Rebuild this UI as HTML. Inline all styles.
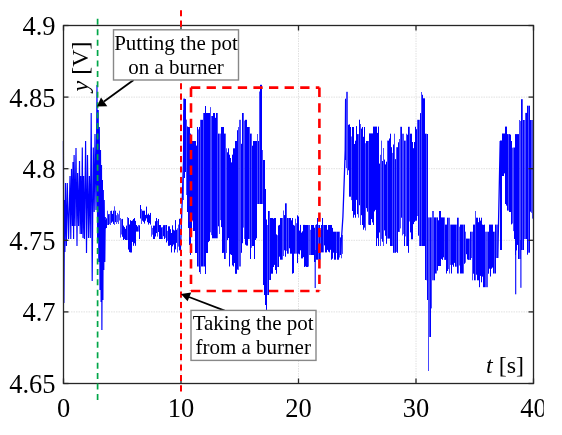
<!DOCTYPE html>
<html><head><meta charset="utf-8"><style>
html,body{margin:0;padding:0;background:#fff;}
body{width:562px;height:435px;overflow:hidden;position:relative;}
svg{position:absolute;left:0;top:0;will-change:transform;}
text{font-family:"Liberation Serif",serif;fill:#000;}
</style></head><body>
<svg width="562" height="435" viewBox="0 0 562 435">
<rect x="0" y="0" width="562" height="435" fill="#fff"/>
<g stroke="#e0e0e0" stroke-width="1" stroke-dasharray="1.5 1" fill="none">
<line x1="181.00" y1="25.5" x2="181.00" y2="383.5"/>
<line x1="298.50" y1="25.5" x2="298.50" y2="383.5"/>
<line x1="416.00" y1="25.5" x2="416.00" y2="383.5"/>
<line x1="63.5" y1="311.90" x2="533.5" y2="311.90"/>
<line x1="63.5" y1="240.30" x2="533.5" y2="240.30"/>
<line x1="63.5" y1="168.70" x2="533.5" y2="168.70"/>
<line x1="63.5" y1="97.10" x2="533.5" y2="97.10"/>
</g>
<g fill="#0000ff" stroke="none">
<rect x="105" y="220.0" width="1" height="8.7"/>
<rect x="106" y="218.3" width="1" height="9.7"/>
<rect x="107" y="210.7" width="0.72" height="14.3"/>
<rect x="108" y="214.2" width="1" height="10.8"/>
<rect x="109" y="214.0" width="0.72" height="10.2"/>
<rect x="110" y="211.0" width="0.72" height="14.0"/>
<rect x="111" y="210.7" width="1" height="12.1"/>
<rect x="112" y="213.9" width="1" height="7.8"/>
<rect x="113" y="210.7" width="1" height="13.2"/>
<rect x="114" y="206.3" width="0.72" height="18.7"/>
<rect x="115" y="210.7" width="1" height="11.4"/>
<rect x="116" y="215.2" width="0.72" height="8.8"/>
<rect x="117" y="212.9" width="0.72" height="9.3"/>
<rect x="118" y="214.3" width="0.72" height="9.7"/>
<rect x="119" y="210.7" width="0.72" height="9.8"/>
<rect x="120" y="218.0" width="0.72" height="19.6"/>
<rect x="121" y="219.2" width="0.72" height="15.3"/>
<rect x="122" y="218.9" width="1" height="17.9"/>
<rect x="123" y="225.6" width="1" height="14.4"/>
<rect x="124" y="227.1" width="1" height="11.8"/>
<rect x="125" y="228.8" width="1" height="11.2"/>
<rect x="126" y="225.6" width="1" height="14.4"/>
<rect x="127" y="217.0" width="0.72" height="23.0"/>
<rect x="128" y="218.0" width="1" height="31.6"/>
<rect x="129" y="224.5" width="1" height="27.6"/>
<rect x="130" y="220.2" width="1" height="32.3"/>
<rect x="131" y="221.0" width="1" height="31.5"/>
<rect x="132" y="220.4" width="1" height="21.5"/>
<rect x="133" y="219.0" width="1" height="26.8"/>
<rect x="134" y="218.0" width="1" height="25.3"/>
<rect x="135" y="220.9" width="1" height="24.9"/>
<rect x="136" y="225.0" width="1" height="6.6"/>
<rect x="137" y="226.4" width="1" height="5.2"/>
<rect x="138" y="225.0" width="0.72" height="6.6"/>
<rect x="139" y="225.3" width="1" height="13.7"/>
<rect x="140" y="205.0" width="1" height="13.5"/>
<rect x="141" y="209.1" width="0.72" height="14.9"/>
<rect x="142" y="210.7" width="1" height="10.0"/>
<rect x="143" y="210.7" width="1" height="11.1"/>
<rect x="144" y="210.7" width="1" height="12.9"/>
<rect x="145" y="214.9" width="1" height="5.8"/>
<rect x="146" y="206.6" width="1" height="11.8"/>
<rect x="147" y="214.7" width="1" height="7.5"/>
<rect x="148" y="213.6" width="1" height="11.0"/>
<rect x="149" y="215.1" width="1" height="8.0"/>
<rect x="150" y="212.9" width="1" height="11.7"/>
<rect x="151" y="225.6" width="0.72" height="11.1"/>
<rect x="152" y="227.9" width="0.72" height="6.8"/>
<rect x="153" y="225.6" width="1" height="13.4"/>
<rect x="154" y="225.6" width="1" height="13.4"/>
<rect x="155" y="221.2" width="1" height="15.3"/>
<rect x="156" y="218.0" width="1" height="15.1"/>
<rect x="157" y="220.8" width="0.72" height="15.8"/>
<rect x="158" y="219.0" width="1" height="13.0"/>
<rect x="159" y="225.0" width="1" height="14.0"/>
<rect x="160" y="225.0" width="1" height="14.0"/>
<rect x="161" y="227.4" width="1" height="11.6"/>
<rect x="162" y="227.2" width="0.72" height="11.8"/>
<rect x="163" y="225.2" width="1" height="11.0"/>
<rect x="164" y="225.1" width="1" height="13.9"/>
<rect x="165" y="225.0" width="0.72" height="12.8"/>
<rect x="166" y="225.0" width="1" height="17.5"/>
<rect x="167" y="230.9" width="0.72" height="9.9"/>
<rect x="168" y="226.3" width="1" height="19.5"/>
<rect x="169" y="226.3" width="1" height="19.5"/>
<rect x="170" y="229.2" width="1" height="15.8"/>
<rect x="171" y="233.0" width="1" height="19.5"/>
<rect x="172" y="225.3" width="1" height="21.0"/>
<rect x="173" y="229.7" width="1" height="14.9"/>
<rect x="174" y="230.5" width="1" height="22.0"/>
<rect x="175" y="220.1" width="1" height="29.3"/>
<rect x="176" y="229.8" width="1" height="13.1"/>
<rect x="177" y="228.3" width="0.72" height="24.2"/>
<rect x="178" y="224.6" width="0.72" height="22.0"/>
<rect x="179" y="218.8" width="1" height="31.6"/>
<rect x="183" y="98.6" width="0.72" height="101.4"/>
<rect x="184" y="98.6" width="1" height="79.4"/>
<rect x="185" y="99.0" width="1" height="73.0"/>
<rect x="186" y="119.6" width="0.72" height="75.4"/>
<rect x="187" y="126.5" width="1" height="85.5"/>
<rect x="188" y="127.0" width="1" height="101.0"/>
<rect x="189" y="127.0" width="1" height="118.0"/>
<rect x="190" y="133.6" width="1" height="121.3"/>
<rect x="191" y="136.2" width="1" height="95.8"/>
<rect x="192" y="141.0" width="1" height="79.6"/>
<rect x="193" y="141.0" width="1" height="90.0"/>
<rect x="194" y="141.0" width="1" height="90.0"/>
<rect x="195" y="141.0" width="1" height="112.0"/>
<rect x="196" y="145.6" width="1" height="107.4"/>
<rect x="197" y="127.0" width="1" height="139.5"/>
<rect x="198" y="129.4" width="0.72" height="137.1"/>
<rect x="199" y="127.0" width="1" height="145.1"/>
<rect x="200" y="119.8" width="0.72" height="154.2"/>
<rect x="201" y="119.8" width="1" height="146.7"/>
<rect x="202" y="119.8" width="1" height="146.7"/>
<rect x="203" y="113.0" width="0.72" height="153.5"/>
<rect x="204" y="113.0" width="1" height="153.5"/>
<rect x="205" y="106.0" width="1" height="168.0"/>
<rect x="206" y="113.0" width="1" height="140.0"/>
<rect x="207" y="113.0" width="1" height="140.0"/>
<rect x="208" y="113.0" width="1" height="129.1"/>
<rect x="209" y="113.0" width="1" height="127.9"/>
<rect x="210" y="107.1" width="0.72" height="125.2"/>
<rect x="211" y="116.0" width="0.72" height="119.1"/>
<rect x="212" y="116.0" width="1" height="122.3"/>
<rect x="213" y="113.0" width="1" height="125.3"/>
<rect x="214" y="113.0" width="1" height="125.3"/>
<rect x="215" y="117.8" width="1" height="120.5"/>
<rect x="216" y="113.0" width="1" height="125.3"/>
<rect x="217" y="113.0" width="0.72" height="125.3"/>
<rect x="218" y="133.6" width="1" height="92.7"/>
<rect x="219" y="133.6" width="0.72" height="100.4"/>
<rect x="220" y="133.6" width="0.72" height="86.5"/>
<rect x="221" y="127.0" width="1" height="100.1"/>
<rect x="222" y="127.0" width="1" height="126.0"/>
<rect x="223" y="127.0" width="1" height="125.8"/>
<rect x="224" y="133.6" width="1" height="125.4"/>
<rect x="225" y="133.6" width="0.72" height="125.4"/>
<rect x="226" y="148.3" width="0.72" height="104.7"/>
<rect x="227" y="152.3" width="1" height="87.8"/>
<rect x="228" y="148.3" width="1" height="89.7"/>
<rect x="229" y="154.7" width="1" height="111.8"/>
<rect x="230" y="158.0" width="1" height="96.3"/>
<rect x="231" y="162.4" width="1" height="92.6"/>
<rect x="232" y="154.7" width="1" height="110.7"/>
<rect x="233" y="148.3" width="1" height="118.2"/>
<rect x="234" y="148.3" width="1" height="114.7"/>
<rect x="235" y="141.0" width="1" height="132.8"/>
<rect x="236" y="141.0" width="1" height="132.8"/>
<rect x="237" y="130.2" width="1" height="139.4"/>
<rect x="238" y="127.0" width="0.72" height="142.9"/>
<rect x="239" y="119.8" width="0.72" height="146.7"/>
<rect x="240" y="119.8" width="0.72" height="146.7"/>
<rect x="241" y="143.8" width="1" height="109.0"/>
<rect x="242" y="113.0" width="1" height="130.2"/>
<rect x="243" y="113.0" width="0.72" height="114.6"/>
<rect x="244" y="120.6" width="0.72" height="118.4"/>
<rect x="245" y="119.8" width="1" height="124.9"/>
<rect x="246" y="119.8" width="1" height="125.8"/>
<rect x="247" y="127.0" width="1" height="118.6"/>
<rect x="248" y="127.0" width="1" height="112.0"/>
<rect x="249" y="127.0" width="0.72" height="112.0"/>
<rect x="250" y="133.6" width="1" height="125.4"/>
<rect x="251" y="133.6" width="0.72" height="114.2"/>
<rect x="252" y="145.7" width="1" height="100.3"/>
<rect x="253" y="141.0" width="1" height="105.0"/>
<rect x="254" y="141.0" width="1" height="118.0"/>
<rect x="255" y="141.0" width="1" height="99.0"/>
<rect x="256" y="141.0" width="1" height="97.3"/>
<rect x="257" y="134.0" width="0.72" height="70.0"/>
<rect x="258" y="141.0" width="1" height="63.0"/>
<rect x="259" y="91.5" width="0.72" height="112.5"/>
<rect x="260" y="84.8" width="1" height="119.2"/>
<rect x="261" y="84.8" width="1" height="119.2"/>
<rect x="262" y="150.0" width="0.72" height="54.0"/>
<rect x="263" y="160.0" width="1" height="125.0"/>
<rect x="264" y="160.0" width="1" height="135.0"/>
<rect x="265" y="189.0" width="1" height="116.0"/>
<rect x="266" y="219.5" width="1" height="90.5"/>
<rect x="267" y="225.0" width="0.72" height="70.0"/>
<rect x="268" y="211.0" width="1" height="84.0"/>
<rect x="269" y="211.0" width="0.72" height="69.0"/>
<rect x="270" y="218.0" width="1" height="62.0"/>
<rect x="271" y="218.0" width="1" height="55.7"/>
<rect x="272" y="218.0" width="1" height="55.7"/>
<rect x="273" y="218.6" width="1" height="48.4"/>
<rect x="274" y="218.0" width="1" height="46.9"/>
<rect x="275" y="218.0" width="1" height="52.0"/>
<rect x="276" y="234.4" width="1" height="39.3"/>
<rect x="277" y="235.2" width="0.72" height="31.8"/>
<rect x="278" y="225.5" width="1" height="41.5"/>
<rect x="279" y="224.9" width="1" height="31.8"/>
<rect x="280" y="218.0" width="1" height="41.7"/>
<rect x="281" y="218.0" width="1" height="41.7"/>
<rect x="282" y="218.0" width="0.72" height="41.7"/>
<rect x="283" y="210.5" width="0.72" height="45.5"/>
<rect x="284" y="215.1" width="1" height="35.2"/>
<rect x="285" y="203.3" width="1" height="53.4"/>
<rect x="286" y="203.3" width="0.72" height="47.5"/>
<rect x="287" y="218.0" width="1" height="35.7"/>
<rect x="288" y="218.0" width="0.72" height="35.7"/>
<rect x="289" y="218.0" width="1" height="30.3"/>
<rect x="290" y="218.0" width="1" height="35.7"/>
<rect x="291" y="220.3" width="1" height="33.4"/>
<rect x="292" y="218.0" width="1" height="55.7"/>
<rect x="293" y="224.9" width="1" height="48.2"/>
<rect x="294" y="225.6" width="1" height="28.1"/>
<rect x="295" y="218.7" width="0.72" height="35.0"/>
<rect x="296" y="223.2" width="0.72" height="30.5"/>
<rect x="297" y="215.3" width="1" height="47.8"/>
<rect x="298" y="216.5" width="1" height="37.2"/>
<rect x="299" y="230.6" width="1" height="23.7"/>
<rect x="300" y="224.9" width="1" height="25.4"/>
<rect x="301" y="232.6" width="1" height="25.8"/>
<rect x="302" y="231.3" width="1" height="27.1"/>
<rect x="303" y="224.9" width="1" height="32.2"/>
<rect x="304" y="224.9" width="1" height="42.1"/>
<rect x="305" y="225.0" width="1" height="41.4"/>
<rect x="306" y="225.0" width="1" height="42.0"/>
<rect x="307" y="225.0" width="1" height="42.0"/>
<rect x="308" y="225.0" width="0.72" height="41.6"/>
<rect x="309" y="225.0" width="0.72" height="30.0"/>
<rect x="310" y="229.8" width="0.72" height="25.2"/>
<rect x="311" y="225.0" width="1" height="30.0"/>
<rect x="312" y="225.0" width="1" height="30.0"/>
<rect x="313" y="225.0" width="1" height="30.0"/>
<rect x="314" y="227.7" width="1" height="34.3"/>
<rect x="315" y="225.0" width="0.72" height="37.0"/>
<rect x="316" y="224.4" width="1" height="35.3"/>
<rect x="317" y="218.0" width="1" height="41.7"/>
<rect x="318" y="225.0" width="0.72" height="34.7"/>
<rect x="319" y="225.0" width="1" height="34.7"/>
<rect x="320" y="229.8" width="0.72" height="29.9"/>
<rect x="321" y="225.0" width="1" height="27.4"/>
<rect x="322" y="218.0" width="1" height="34.4"/>
<rect x="323" y="225.0" width="0.72" height="27.4"/>
<rect x="324" y="225.0" width="1" height="20.4"/>
<rect x="325" y="225.0" width="1" height="27.4"/>
<rect x="326" y="225.0" width="1" height="27.4"/>
<rect x="327" y="229.7" width="1" height="20.2"/>
<rect x="328" y="225.0" width="1" height="26.7"/>
<rect x="329" y="225.0" width="1" height="27.4"/>
<rect x="330" y="225.0" width="1" height="24.8"/>
<rect x="331" y="225.0" width="1" height="34.7"/>
<rect x="332" y="227.9" width="1" height="30.8"/>
<rect x="333" y="231.7" width="1" height="21.0"/>
<rect x="334" y="231.7" width="1" height="28.0"/>
<rect x="335" y="231.7" width="1" height="28.0"/>
<rect x="336" y="231.7" width="0.72" height="21.3"/>
<rect x="337" y="231.7" width="1" height="28.0"/>
<rect x="338" y="231.7" width="1" height="28.0"/>
<rect x="339" y="231.7" width="0.72" height="25.8"/>
<rect x="340" y="237.4" width="1" height="17.6"/>
<rect x="341" y="235.0" width="0.72" height="23.3"/>
<rect x="342" y="235.0" width="0.72" height="18.9"/>
<rect x="345" y="98.7" width="1" height="61.3"/>
<rect x="346" y="91.8" width="0.72" height="76.2"/>
<rect x="347" y="91.8" width="0.72" height="83.2"/>
<rect x="348" y="124.8" width="1" height="45.5"/>
<rect x="349" y="124.3" width="1" height="72.4"/>
<rect x="350" y="127.0" width="1" height="69.7"/>
<rect x="351" y="136.5" width="0.72" height="63.6"/>
<rect x="352" y="127.0" width="1" height="84.0"/>
<rect x="353" y="127.0" width="1" height="90.7"/>
<rect x="354" y="144.0" width="1" height="70.8"/>
<rect x="355" y="140.7" width="1" height="77.0"/>
<rect x="356" y="126.1" width="1" height="73.8"/>
<rect x="357" y="134.1" width="1" height="80.1"/>
<rect x="358" y="134.1" width="0.72" height="83.6"/>
<rect x="359" y="119.7" width="1" height="85.5"/>
<rect x="360" y="124.0" width="0.72" height="101.0"/>
<rect x="361" y="128.6" width="1" height="86.6"/>
<rect x="362" y="127.0" width="1" height="98.0"/>
<rect x="363" y="136.8" width="1" height="92.9"/>
<rect x="364" y="127.0" width="1" height="100.6"/>
<rect x="365" y="143.2" width="0.72" height="87.3"/>
<rect x="366" y="141.0" width="1" height="67.1"/>
<rect x="367" y="141.0" width="1" height="70.7"/>
<rect x="368" y="141.0" width="0.72" height="83.7"/>
<rect x="369" y="133.4" width="1" height="91.6"/>
<rect x="370" y="133.4" width="1" height="91.6"/>
<rect x="371" y="133.4" width="1" height="85.6"/>
<rect x="372" y="133.4" width="1" height="89.0"/>
<rect x="373" y="126.6" width="1" height="98.4"/>
<rect x="374" y="126.6" width="1" height="84.8"/>
<rect x="375" y="126.6" width="1" height="83.3"/>
<rect x="376" y="126.6" width="1" height="119.4"/>
<rect x="377" y="132.9" width="1" height="105.3"/>
<rect x="378" y="126.6" width="1" height="119.4"/>
<rect x="379" y="163.6" width="1" height="68.9"/>
<rect x="380" y="154.8" width="0.72" height="91.2"/>
<rect x="381" y="140.6" width="0.72" height="98.3"/>
<rect x="382" y="161.0" width="1" height="80.7"/>
<rect x="383" y="148.0" width="0.72" height="98.0"/>
<rect x="384" y="159.6" width="1" height="70.8"/>
<rect x="385" y="164.4" width="1" height="71.4"/>
<rect x="386" y="161.7" width="1" height="82.1"/>
<rect x="387" y="140.6" width="0.72" height="98.0"/>
<rect x="388" y="140.6" width="1" height="98.0"/>
<rect x="389" y="138.5" width="1" height="100.1"/>
<rect x="390" y="133.7" width="1" height="112.3"/>
<rect x="391" y="147.2" width="1" height="98.8"/>
<rect x="392" y="152.9" width="0.72" height="93.1"/>
<rect x="393" y="144.5" width="1" height="108.3"/>
<rect x="394" y="133.7" width="0.72" height="119.1"/>
<rect x="395" y="159.1" width="1" height="93.7"/>
<rect x="396" y="147.2" width="0.72" height="104.7"/>
<rect x="397" y="147.2" width="1" height="105.6"/>
<rect x="398" y="142.3" width="1" height="89.6"/>
<rect x="399" y="139.0" width="0.72" height="92.9"/>
<rect x="400" y="126.8" width="0.72" height="101.6"/>
<rect x="401" y="126.8" width="1" height="90.9"/>
<rect x="402" y="133.7" width="0.72" height="101.7"/>
<rect x="403" y="133.7" width="0.72" height="100.3"/>
<rect x="404" y="140.6" width="1" height="105.4"/>
<rect x="405" y="140.6" width="0.72" height="95.8"/>
<rect x="406" y="133.7" width="0.72" height="112.3"/>
<rect x="407" y="134.7" width="1" height="111.3"/>
<rect x="408" y="126.8" width="1" height="126.0"/>
<rect x="409" y="126.8" width="0.72" height="94.7"/>
<rect x="410" y="133.7" width="1" height="98.7"/>
<rect x="411" y="133.7" width="1" height="105.6"/>
<rect x="412" y="142.0" width="1" height="97.3"/>
<rect x="413" y="148.2" width="1" height="75.9"/>
<rect x="414" y="142.0" width="1" height="79.9"/>
<rect x="415" y="126.8" width="1" height="94.0"/>
<rect x="416" y="129.2" width="1" height="91.5"/>
<rect x="417" y="119.8" width="0.72" height="96.2"/>
<rect x="418" y="119.8" width="1" height="115.9"/>
<rect x="419" y="119.8" width="0.72" height="126.2"/>
<rect x="420" y="113.1" width="1" height="132.9"/>
<rect x="421" y="92.0" width="0.72" height="154.0"/>
<rect x="422" y="94.8" width="1" height="151.2"/>
<rect x="423" y="98.3" width="1" height="147.7"/>
<rect x="424" y="98.3" width="1" height="147.7"/>
<rect x="425" y="133.7" width="1" height="146.3"/>
<rect x="426" y="133.7" width="0.72" height="146.6"/>
<rect x="427" y="134.0" width="1" height="166.0"/>
<rect x="428" y="217.4" width="0.72" height="153.6"/>
<rect x="429" y="217.4" width="0.72" height="119.6"/>
<rect x="430" y="217.4" width="1" height="119.6"/>
<rect x="431" y="217.4" width="0.72" height="91.0"/>
<rect x="432" y="211.0" width="0.72" height="69.3"/>
<rect x="433" y="211.0" width="0.72" height="69.3"/>
<rect x="434" y="217.4" width="1" height="62.9"/>
<rect x="435" y="217.4" width="1" height="56.1"/>
<rect x="436" y="217.4" width="0.72" height="56.1"/>
<rect x="437" y="217.4" width="1" height="53.2"/>
<rect x="438" y="220.3" width="1" height="45.7"/>
<rect x="439" y="211.0" width="1" height="55.0"/>
<rect x="440" y="211.0" width="1" height="55.0"/>
<rect x="441" y="217.4" width="1" height="41.5"/>
<rect x="442" y="217.4" width="1" height="42.5"/>
<rect x="443" y="217.4" width="1" height="39.9"/>
<rect x="444" y="217.4" width="0.72" height="42.5"/>
<rect x="445" y="224.6" width="1" height="35.3"/>
<rect x="446" y="224.6" width="1" height="48.9"/>
<rect x="447" y="217.7" width="1" height="53.3"/>
<rect x="448" y="217.7" width="0.72" height="51.4"/>
<rect x="449" y="217.7" width="0.72" height="55.8"/>
<rect x="450" y="224.6" width="0.72" height="40.3"/>
<rect x="451" y="224.6" width="1" height="48.9"/>
<rect x="452" y="224.6" width="1" height="40.2"/>
<rect x="453" y="224.6" width="1" height="42.1"/>
<rect x="454" y="224.6" width="1" height="38.3"/>
<rect x="455" y="224.6" width="1" height="42.1"/>
<rect x="456" y="224.6" width="0.72" height="42.1"/>
<rect x="457" y="217.7" width="1" height="55.8"/>
<rect x="458" y="217.7" width="0.72" height="55.8"/>
<rect x="459" y="226.7" width="0.72" height="38.8"/>
<rect x="460" y="224.6" width="1" height="48.9"/>
<rect x="461" y="224.6" width="1" height="48.9"/>
<rect x="462" y="224.6" width="1" height="48.9"/>
<rect x="463" y="224.6" width="0.72" height="48.9"/>
<rect x="464" y="224.6" width="1" height="39.2"/>
<rect x="465" y="231.7" width="0.72" height="31.0"/>
<rect x="466" y="238.6" width="1" height="15.6"/>
<rect x="467" y="238.6" width="1" height="20.8"/>
<rect x="468" y="238.6" width="1" height="21.3"/>
<rect x="469" y="238.6" width="0.72" height="21.3"/>
<rect x="470" y="231.7" width="1" height="28.2"/>
<rect x="471" y="231.7" width="0.72" height="26.3"/>
<rect x="472" y="231.7" width="0.72" height="48.6"/>
<rect x="473" y="224.6" width="1" height="49.1"/>
<rect x="474" y="224.6" width="1" height="55.7"/>
<rect x="475" y="211.0" width="0.72" height="69.3"/>
<rect x="476" y="217.7" width="1" height="57.0"/>
<rect x="477" y="217.7" width="1" height="62.6"/>
<rect x="478" y="222.2" width="1" height="58.1"/>
<rect x="479" y="217.7" width="1" height="69.5"/>
<rect x="480" y="220.6" width="1" height="55.3"/>
<rect x="481" y="217.7" width="1" height="64.6"/>
<rect x="482" y="224.6" width="1" height="52.0"/>
<rect x="483" y="224.9" width="1" height="62.3"/>
<rect x="484" y="224.6" width="1" height="62.6"/>
<rect x="485" y="231.7" width="0.72" height="55.5"/>
<rect x="486" y="231.7" width="0.72" height="55.5"/>
<rect x="487" y="231.7" width="0.72" height="55.5"/>
<rect x="488" y="231.7" width="1" height="42.0"/>
<rect x="489" y="224.6" width="1" height="44.1"/>
<rect x="490" y="224.6" width="1" height="51.9"/>
<rect x="491" y="224.6" width="1" height="44.1"/>
<rect x="492" y="224.6" width="1" height="43.0"/>
<rect x="493" y="231.7" width="1" height="41.8"/>
<rect x="494" y="231.7" width="0.72" height="41.8"/>
<rect x="495" y="224.6" width="1" height="48.9"/>
<rect x="496" y="224.6" width="0.72" height="33.4"/>
<rect x="497" y="224.6" width="0.72" height="33.4"/>
<rect x="500" y="140.5" width="1" height="109.5"/>
<rect x="501" y="140.5" width="1" height="109.5"/>
<rect x="502" y="133.5" width="1" height="42.5"/>
<rect x="503" y="133.5" width="1" height="42.5"/>
<rect x="504" y="133.5" width="1" height="39.9"/>
<rect x="505" y="126.6" width="1" height="77.4"/>
<rect x="506" y="126.6" width="1" height="79.0"/>
<rect x="507" y="134.1" width="1" height="76.5"/>
<rect x="508" y="134.1" width="0.72" height="76.5"/>
<rect x="509" y="134.1" width="1" height="77.9"/>
<rect x="510" y="134.6" width="1" height="77.4"/>
<rect x="511" y="141.0" width="1" height="83.4"/>
<rect x="512" y="147.7" width="0.72" height="75.8"/>
<rect x="513" y="147.5" width="0.72" height="83.6"/>
<rect x="514" y="147.5" width="1" height="91.5"/>
<rect x="515" y="134.1" width="1" height="120.9"/>
<rect x="516" y="134.1" width="1" height="116.3"/>
<rect x="517" y="134.1" width="1" height="110.8"/>
<rect x="518" y="134.1" width="1" height="124.9"/>
<rect x="519" y="120.0" width="0.72" height="139.0"/>
<rect x="520" y="121.0" width="0.72" height="138.0"/>
<rect x="521" y="99.2" width="1" height="150.8"/>
<rect x="522" y="99.2" width="0.72" height="150.8"/>
<rect x="523" y="120.0" width="1" height="130.0"/>
<rect x="524" y="120.0" width="0.72" height="119.0"/>
<rect x="525" y="112.9" width="0.72" height="126.1"/>
<rect x="526" y="112.9" width="1" height="126.1"/>
<rect x="527" y="105.7" width="1" height="149.0"/>
<rect x="528" y="105.7" width="0.72" height="147.0"/>
<rect x="529" y="105.7" width="1" height="147.0"/>
<rect x="530" y="120.0" width="1" height="91.7"/>
<rect x="531" y="120.0" width="0.72" height="92.8"/>
<rect x="532" y="120.0" width="0.72" height="98.6"/>
<path d="M63.40 141.0 L63.90 303.0 L64.60 200.0 L64.90 252.0 L65.50 183.0 L66.40 246.0 L67.30 183.0 L68.60 239.0 L69.50 200.0 L70.00 176.0 L70.80 239.0 L71.50 169.0 L72.40 226.0 L73.00 162.0 L73.60 239.0 L74.10 155.0 L75.00 226.0 L76.00 148.0 L77.00 246.0 L77.60 173.0 L78.60 226.0 L79.50 161.0 L80.20 234.0 L80.80 176.0 L81.60 234.0 L82.30 147.6 L83.00 238.0 L83.60 176.0 L84.40 239.0 L85.60 141.0 L86.50 253.0 L87.50 155.0 L88.50 238.0 L89.40 176.0 L90.30 238.0 L91.20 113.0 L92.20 281.0 L93.30 147.6 L94.20 212.0 L95.00 134.0 L96.00 210.0 L97.00 85.0 L97.60 241.0 L98.20 110.0 L98.80 262.0 L99.30 127.0 L100.00 290.0 L100.50 150.0 L101.10 302.0 L101.50 165.0 L101.90 330.0 L102.40 180.0 L102.90 300.0 L103.30 190.0 L103.80 270.0 L104.20 200.0 L104.80 262.0 L105.30 217.0" fill="none" stroke="#0000ff" stroke-width="1.15" stroke-linejoin="bevel"/>
<rect x="99.0" y="205.0" width="5.0" height="45.0"/>
<rect x="314.65" y="250.0" width="1.10" height="38.0"/>
<rect x="515.15" y="240.0" width="1.10" height="54.3"/>
<rect x="520.35" y="240.0" width="1.10" height="47.8"/>
</g>
<g fill="none" stroke="#0000ff" stroke-width="1.3">
<path d="M180.3 250.0 L181.0 235.0 L182.3 198.0 L183.5 160.0 L183.9 110.0"/>
<path d="M340.3 255.0 L341.4 240.0 L342.9 217.0 L344.4 175.0 L345.2 150.0 L345.6 100.0"/>
<path d="M497.8 258.0 L499.0 200.0 L500.2 141.0"/>
</g>
<g stroke="#262626" stroke-width="1.3" fill="none">
<rect x="63.5" y="25.5" width="470.0" height="358.0"/>
<line x1="63.50" y1="383.5" x2="63.50" y2="378.5"/>
<line x1="63.50" y1="25.5" x2="63.50" y2="30.5"/>
<line x1="181.00" y1="383.5" x2="181.00" y2="378.5"/>
<line x1="181.00" y1="25.5" x2="181.00" y2="30.5"/>
<line x1="298.50" y1="383.5" x2="298.50" y2="378.5"/>
<line x1="298.50" y1="25.5" x2="298.50" y2="30.5"/>
<line x1="416.00" y1="383.5" x2="416.00" y2="378.5"/>
<line x1="416.00" y1="25.5" x2="416.00" y2="30.5"/>
<line x1="533.50" y1="383.5" x2="533.50" y2="378.5"/>
<line x1="533.50" y1="25.5" x2="533.50" y2="30.5"/>
<line x1="63.5" y1="383.50" x2="68.5" y2="383.50"/>
<line x1="533.5" y1="383.50" x2="528.5" y2="383.50"/>
<line x1="63.5" y1="311.90" x2="68.5" y2="311.90"/>
<line x1="533.5" y1="311.90" x2="528.5" y2="311.90"/>
<line x1="63.5" y1="240.30" x2="68.5" y2="240.30"/>
<line x1="533.5" y1="240.30" x2="528.5" y2="240.30"/>
<line x1="63.5" y1="168.70" x2="68.5" y2="168.70"/>
<line x1="533.5" y1="168.70" x2="528.5" y2="168.70"/>
<line x1="63.5" y1="97.10" x2="68.5" y2="97.10"/>
<line x1="533.5" y1="97.10" x2="528.5" y2="97.10"/>
<line x1="63.5" y1="25.50" x2="68.5" y2="25.50"/>
<line x1="533.5" y1="25.50" x2="528.5" y2="25.50"/>
</g>
<path d="M191 87.6 H319.4 M191 291 H319.4 M191 87.6 V291 M319.4 87.6 V291" fill="none" stroke="#ff0000" stroke-width="2.6" stroke-dasharray="9.3 6.3"/>
<!-- vertical event markers -->
<line x1="97.6" y1="18.8" x2="97.6" y2="400.5" stroke="#00a648" stroke-width="1.7" stroke-dasharray="6 4.42"/>
<line x1="181" y1="10.2" x2="181" y2="391.7" stroke="#ff0000" stroke-width="2" stroke-dasharray="6.1 4.32"/>
<g font-size="26.5">
<text x="55.5" y="393.00" text-anchor="end">4.65</text>
<text x="55.5" y="321.40" text-anchor="end">4.7</text>
<text x="55.5" y="249.80" text-anchor="end">4.75</text>
<text x="55.5" y="178.20" text-anchor="end">4.8</text>
<text x="55.5" y="106.60" text-anchor="end">4.85</text>
<text x="55.5" y="35.00" text-anchor="end">4.9</text>
<text x="63.50" y="416.6" text-anchor="middle">0</text>
<text x="181.00" y="416.6" text-anchor="middle">10</text>
<text x="298.50" y="416.6" text-anchor="middle">20</text>
<text x="416.00" y="416.6" text-anchor="middle">30</text>
<text x="533.50" y="416.6" text-anchor="middle">40</text>
</g>
<rect x="543.8" y="388" width="20" height="40" fill="#fff"/>
<text x="486" y="373" font-size="24"><tspan font-style="italic">t</tspan> [s]</text>
<text transform="translate(87.5 91.5) rotate(-90)" font-size="24"><tspan font-style="italic">y</tspan> [V]</text>
<!-- annotation 1 -->
<line x1="133.6" y1="80" x2="104" y2="101.6" stroke="#000" stroke-width="1.8"/>
<path d="M97 106.6 L101.0 97.6 L107.3 106.2 Z" fill="#000"/>
<rect x="113.5" y="29.8" width="125" height="50.2" fill="#fff" stroke="#888" stroke-width="1.4"/>
<g font-size="21" text-anchor="middle">
<text x="176" y="49.5">Putting the pot</text>
<text x="176" y="73.6">on a burner</text>
</g>
<!-- annotation 2 -->
<line x1="224.6" y1="310.7" x2="189" y2="297" stroke="#000" stroke-width="1.8"/>
<path d="M180.9 293.9 L191.2 292.6 L187.6 301.3 Z" fill="#000"/>
<rect x="191" y="310.4" width="125" height="50" fill="#fff" stroke="#888" stroke-width="1.4"/>
<g font-size="21" text-anchor="middle">
<text x="253.2" y="329.8">Taking the pot</text>
<text x="253.2" y="353.5">from a burner</text>
</g>
</svg>
</body></html>
